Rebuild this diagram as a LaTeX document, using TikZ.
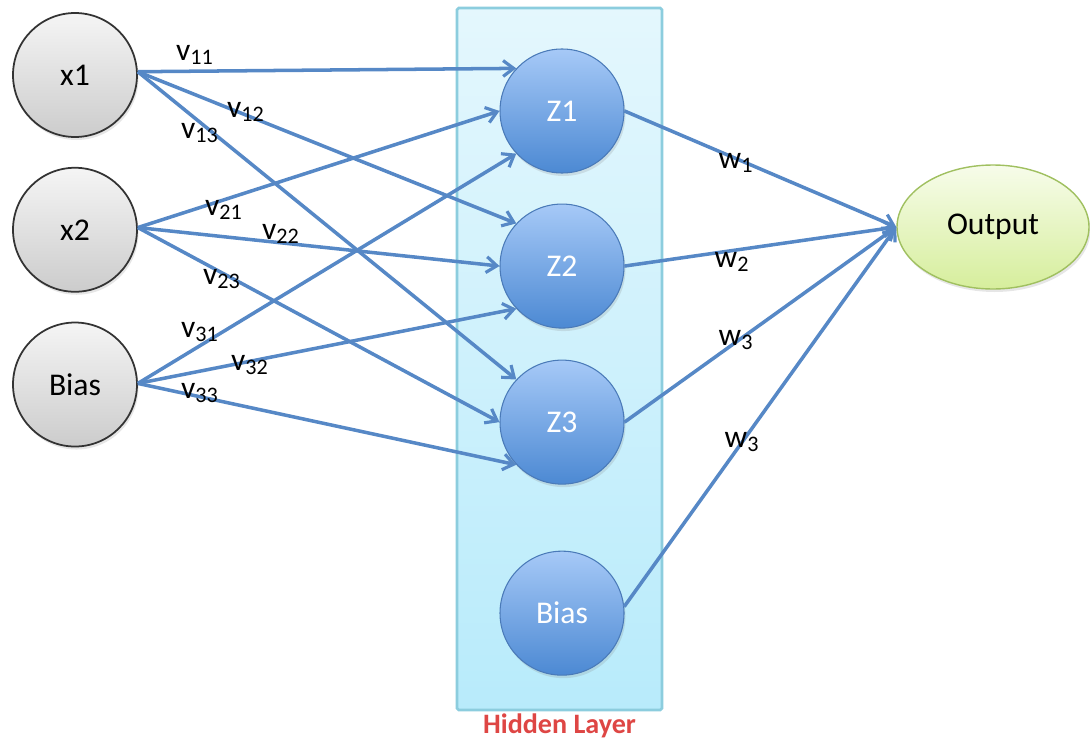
\documentclass[tikz,border=0pt]{standalone}
\usepackage{fontspec}
\setmainfont{Carlito}
\usetikzlibrary{shapes.geometric, positioning, arrows.meta, shadows, calc}

\definecolor{edgeblue}{RGB}{86,136,198}
\definecolor{hidtop}{RGB}{166,201,247}
\definecolor{hidbot}{RGB}{76,137,211}
\definecolor{hidline}{RGB}{74,122,184}
\definecolor{laytop}{RGB}{228,247,253}
\definecolor{laybot}{RGB}{184,235,251}
\definecolor{layline}{RGB}{140,205,222}
\definecolor{outtop}{RGB}{247,252,234}
\definecolor{outbot}{RGB}{214,238,156}
\definecolor{outline}{RGB}{160,192,96}
\definecolor{laytext}{RGB}{222,70,68}

\tikzset{
  inp/.style={draw=black!80, line width=1pt, circle, minimum size=2.48cm,
    top color=black!4, bottom color=black!20,
    drop shadow={opacity=0.2, shadow xshift=0.03cm, shadow yshift=-0.06cm},
    font=\fontsize{18}{20}\selectfont},
  hid/.style={draw=hidline, line width=0.6pt, circle, minimum size=2.48cm,
    top color=hidtop, bottom color=hidbot, text=white,
    drop shadow={opacity=0.2, shadow xshift=0.03cm, shadow yshift=-0.06cm},
    font=\fontsize{18}{20}\selectfont},
  wire/.style={draw=edgeblue, line width=2pt,
    -{Straight Barb[length=6pt, width=9pt, line width=1.8pt]}},
  wt/.style={inner sep=0pt, font=\fontsize{18}{20}\selectfont}
}

\begin{document}
\begin{tikzpicture}
    \useasboundingbox (0,0) rectangle (21.8,-14.98);

    % hidden layer box
    \node[draw=layline, line width=1.5pt, rounded corners=1pt, top color=laytop, bottom color=laybot,
          minimum width=4.1cm, minimum height=14.04cm] (layer) at (11.19,-7.18) {};
    \node[below=0.04 of layer, inner sep=0pt, text=laytext, font=\fontsize{16}{18}\selectfont\bfseries] (laylbl) {Hidden Layer};

    % inputs
    \node[inp] (x1) at (1.5,-1.5) {x1};
    \node[inp, below=0.58 of x1] (x2) {x2};
    \node[inp, below=0.58 of x2] (b1) {Bias};

    % hidden units
    \node[hid] (z1) at (11.24,-2.22) {Z1};
    \node[hid, below=0.6 of z1] (z2) {Z2};
    \node[hid, below=0.62 of z2] (z3) {Z3};
    \node[hid, below=1.32 of z3] (b2) {Bias};

    % output
    \node[draw=outline, line width=0.8pt, ellipse, minimum width=3.84cm, minimum height=2.48cm,
          top color=outtop, bottom color=outbot,
          drop shadow={opacity=0.2, shadow xshift=0.03cm, shadow yshift=-0.06cm},
          font=\fontsize{18}{20}\selectfont] (out) at (19.86,-4.54) {Output};

    % input -> hidden
    \draw[wire] (x1.3) -- (z1.137);
    \draw[wire] (x1.3) -- (z2.137);
    \draw[wire] (x1.3) -- (z3.137);
    \draw[wire] (x2.2) -- (z1.180);
    \draw[wire] (x2.2) -- (z2.180);
    \draw[wire] (x2.2) -- (z3.180);
    \draw[wire] (b1.1) -- (z1.223);
    \draw[wire] (b1.1) -- (z2.223);
    \draw[wire] (b1.1) -- (z3.223);

    % hidden -> output
    \draw[wire] (z1.east) -- (out.west);
    \draw[wire] (z2.east) -- (out.west);
    \draw[wire] (z3.east) -- (out.west);
    \draw[wire] (b2.6) -- (out.west);

    % weights
    \node[wt] (v11) at (3.9,-1.1) {v\textsubscript{11}};
    \node[wt] (v12) at (4.92,-2.24) {v\textsubscript{12}};
    \node[wt] (v13) at (4.0,-2.66) {v\textsubscript{13}};
    \node[wt] (v21) at (4.48,-4.2) {v\textsubscript{21}};
    \node[wt] (v22) at (5.62,-4.68) {v\textsubscript{22}};
    \node[wt] (v23) at (4.44,-5.58) {v\textsubscript{23}};
    \node[wt] (v31) at (4.0,-6.64) {v\textsubscript{31}};
    \node[wt] (v32) at (5.0,-7.3) {v\textsubscript{32}};
    \node[wt] (v33) at (4.0,-7.86) {v\textsubscript{33}};
    \node[wt] (w1) at (14.72,-3.26) {w\textsubscript{1}};
    \node[wt] (w2) at (14.64,-5.24) {w\textsubscript{2}};
    \node[wt] (w3) at (14.72,-6.8) {w\textsubscript{3}};
    \node[wt] (w4) at (14.84,-8.84) {w\textsubscript{3}};
\end{tikzpicture}
\end{document}
